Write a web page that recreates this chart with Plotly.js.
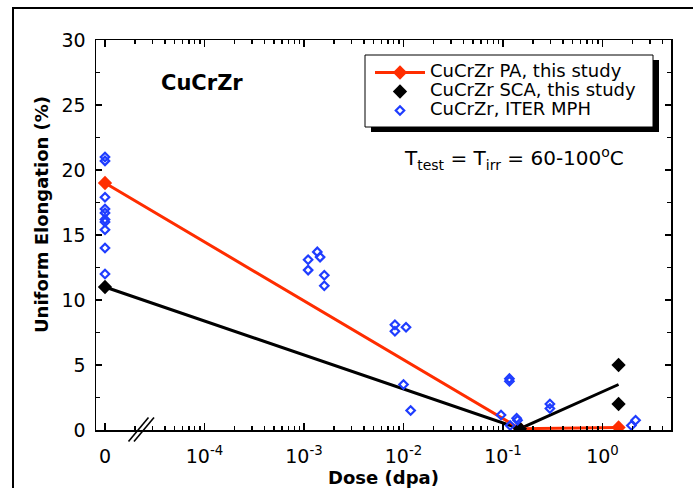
<!DOCTYPE html>
<html>
<head>
<meta charset="utf-8">
<script src="https://cdn.plot.ly/plotly-3.0.1.min.js"></script>
<style>html,body{margin:0;padding:0;background:#fff;}#chart{width:693px;height:488px;}</style>
</head>
<body>
<div id="chart"></div>
<script>
// Dose 0 is drawn at this position on the broken log axis (shown as "0")
const ZERO_POS = 1e-5;

// CuCrZr PA, this study
const paDose = [0, 0.148, 1.45];
const paUE   = [19.0, 0.1, 0.2];

// CuCrZr SCA, this study (markers)
const scaDose = [0, 0.148, 1.45, 1.45];
const scaUE   = [11.0, 0.1, 5.0, 2.0];

// SCA trend line (through mean at highest dose)
const scaLineDose = [0, 0.148, 1.45];
const scaLineUE   = [11.0, 0.1, 3.5];

// CuCrZr, ITER MPH
const iterDose = [0, 0, 0, 0, 0, 0, 0, 0, 0, 0,
                  0.0011, 0.00136, 0.00145, 0.0011, 0.0016, 0.0016,
                  0.0082, 0.0082, 0.0106, 0.0100, 0.0118,
                  0.0955, 0.116, 0.116, 0.137, 0.14, 0.118,
                  0.296, 0.296, 2.15, 1.95];
const iterUE   = [21.0, 20.7, 17.9, 17.0, 16.7, 16.2, 16.0, 15.4, 14.0, 12.0,
                  13.1, 13.7, 13.3, 12.3, 11.9, 11.1,
                  8.1, 7.6, 7.9, 3.5, 1.5,
                  1.15, 3.95, 3.75, 0.9, 0.75, 0.35,
                  2.0, 1.65, 0.75, 0.35];

// Axis ticks
const xTickVals = [ZERO_POS, 1e-4, 1e-3, 1e-2, 1e-1, 1e0];
const xTickText = ['0', '10<sup>-4</sup>', '10<sup>-3</sup>', '10<sup>-2</sup>', '10<sup>-1</sup>', '10<sup>0</sup>'];
const xMinorDecades = [1e-5, 1e-4, 1e-3, 1e-2, 1e-1];
const xMinorMult = [2, 3, 4, 5, 6, 7, 8, 9];
const xMinorTop = [2e0, 3e0, 4e0];
const yMinorVals = [2.5, 7.5, 12.5, 17.5, 22.5, 27.5];

const toX = d => d.map(v => v === 0 ? ZERO_POS : v);
const xMinor = [];
xMinorDecades.forEach(dec => xMinorMult.forEach(m => xMinor.push(m * dec)));
xMinorTop.forEach(v => xMinor.push(v));

const RED = '#ff2d00';
const BLUE = '#1f3dff';
const FONT = 'DejaVu Sans, Arial, sans-serif';
const LEG = s => '<span style="font-size:18px">' + s + '</span>';

const traces = [
  {
    x: toX(scaLineDose), y: scaLineUE, mode: 'lines', type: 'scatter',
    line: {color: 'black', width: 3}, showlegend: false, hoverinfo: 'skip'
  },
  {
    x: toX(paDose), y: paUE, mode: 'lines+markers', type: 'scatter',
    name: LEG('CuCrZr PA, this study'),
    line: {color: RED, width: 3},
    marker: {symbol: 'diamond', size: 11, color: RED}
  },
  {
    x: toX(scaDose), y: scaUE, mode: 'markers', type: 'scatter',
    name: LEG('CuCrZr SCA, this study'),
    marker: {symbol: 'diamond', size: 11, color: 'black'}
  },
  {
    // drawn on the overlaid axis pair that carries the minor ticks (identical ranges)
    x: toX(iterDose), y: iterUE, mode: 'markers', type: 'scatter', xaxis: 'x2', yaxis: 'y2',
    name: LEG('CuCrZr, ITER MPH'),
    marker: {symbol: 'diamond-open', size: 6.5, color: BLUE, line: {color: BLUE, width: 2.2}}
  }
];

// pixel -> paper helpers for decorations (plot area 96..671 x 40..430)
const PL = 96, PR = 671, PT = 40, PB = 430;
const px = v => (v - PL) / (PR - PL);
const py = v => (PB - v) / (PB - PT);
const XRANGE = [-5.0905, 0.6884];
const YRANGE = [0, 30];

const layout = {
  width: 693, height: 488,
  margin: {l: PL, r: 693 - PR, t: PT, b: 488 - PB, pad: 0},
  paper_bgcolor: 'white', plot_bgcolor: 'white',
  font: {family: FONT, color: 'black', size: 19},
  showlegend: true,
  legend: {
    x: px(370), y: py(58), xanchor: 'left', yanchor: 'top',
    bgcolor: 'rgba(0,0,0,0)', borderwidth: 0,
    font: {family: FONT, size: 12, color: 'black'},
    itemwidth: 50, tracegroupgap: 0
  },
  xaxis: {
    type: 'log', range: XRANGE,
    tickmode: 'array', tickvals: xTickVals, ticktext: xTickText,
    ticks: 'inside', ticklen: 7, tickwidth: 1.5, tickcolor: 'black',
    showline: true, linecolor: 'black', linewidth: 1.5, mirror: 'ticks',
    showgrid: false, zeroline: false,
    ticklabelstandoff: 9,
    tickfont: {family: FONT, size: 19, color: 'black'},
    title: {text: '<b>Dose (dpa)</b>', font: {family: FONT, size: 18, color: 'black'}, standoff: 6}
  },
  xaxis2: {
    type: 'log', range: XRANGE, overlaying: 'x', anchor: 'y2', side: 'bottom',
    tickmode: 'array', tickvals: xMinor, showticklabels: false,
    ticks: 'inside', ticklen: 4, tickwidth: 1.2, tickcolor: 'black',
    showline: false, mirror: 'ticks', showgrid: false, zeroline: false
  },
  yaxis: {
    range: YRANGE, tickmode: 'linear', tick0: 0, dtick: 5,
    ticks: 'inside', ticklen: 6, tickwidth: 1.5, tickcolor: 'black',
    showline: true, linecolor: 'black', linewidth: 1.5, mirror: 'ticks',
    showgrid: false, zeroline: false,
    ticklabelstandoff: 5,
    tickfont: {family: FONT, size: 19, color: 'black'}
  },
  yaxis2: {
    range: YRANGE, overlaying: 'y', anchor: 'x2', side: 'left',
    tickmode: 'array', tickvals: yMinorVals, showticklabels: false,
    ticks: 'inside', ticklen: 4, tickwidth: 1.2, tickcolor: 'black',
    showline: false, mirror: 'ticks', showgrid: false, zeroline: false
  },
  shapes: [
    // outer frame
    {type: 'rect', xref: 'paper', yref: 'paper', x0: px(13), x1: 1.3, y0: -0.4, y1: py(8),
     line: {color: 'black', width: 2}, fillcolor: 'rgba(0,0,0,0)', layer: 'below'},
    // legend shadow
    {type: 'rect', xref: 'paper', yref: 'paper', x0: px(371), x1: px(659), y0: py(132), y1: py(60),
     line: {width: 0}, fillcolor: 'black', layer: 'below'},
    // legend box
    {type: 'rect', xref: 'paper', yref: 'paper', x0: px(365), x1: px(653), y0: py(127), y1: py(55),
     line: {color: 'black', width: 1}, fillcolor: 'white', layer: 'below'},
    // axis break marks
    {type: 'line', xref: 'paper', yref: 'paper', x0: px(128.5), y0: py(441.5), x1: px(148.5), y1: py(417.5),
     line: {color: 'black', width: 1.6}},
    {type: 'line', xref: 'paper', yref: 'paper', x0: px(134), y0: py(441.5), x1: px(154), y1: py(417.5),
     line: {color: 'black', width: 1.6}}
  ],
  annotations: [
    {xref: 'paper', yref: 'paper', x: px(42), y: py(215), text: '<b>Uniform Elongation (%)</b>',
     textangle: -90, showarrow: false, font: {family: FONT, size: 18, color: 'black'},
     xanchor: 'center', yanchor: 'middle'},
    {xref: 'paper', yref: 'paper', x: px(202), y: py(83), text: '<b>CuCrZr</b>',
     showarrow: false, font: {family: FONT, size: 21, color: 'black'}, xanchor: 'center', yanchor: 'middle'},
    {xref: 'paper', yref: 'paper', x: px(514), y: py(158), text: 'T<sub>test</sub> = T<sub>irr</sub> = 60-100<sup>o</sup>C',
     showarrow: false, font: {family: FONT, size: 20, color: 'black'}, xanchor: 'center', yanchor: 'middle'}
  ]
};

Plotly.newPlot('chart', traces, layout, {displayModeBar: false, staticPlot: true});
</script>
</body>
</html>
